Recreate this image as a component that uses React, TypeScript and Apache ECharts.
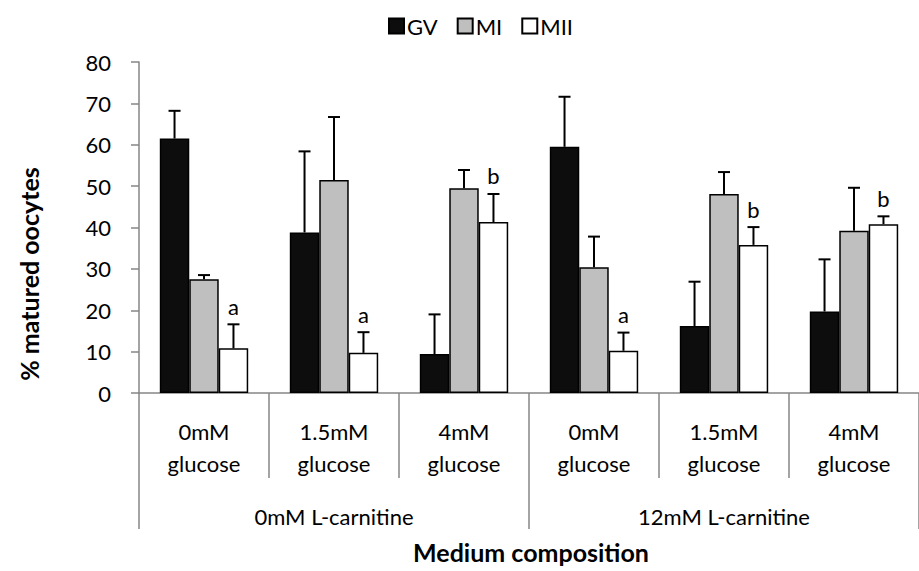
import React, { useEffect, useRef } from "react";
import * as echarts from "echarts";

const categories = ["0mM\nglucose", "1.5mM\nglucose", "4mM\nglucose", "0mM\nglucose", "1.5mM\nglucose", "4mM\nglucose"];
const groups = ["0mM L-carnitine", "12mM L-carnitine"];
const seriesNames = ["GV", "MI", "MII"];
const gvValues = [61.5, 38.8, 9.4, 59.5, 16.2, 19.7];
const miValues = [27.5, 51.5, 49.5, 30.4, 48.1, 39.2];
const miiValues = [10.8, 9.7, 41.3, 10.2, 35.8, 40.8];
const gvErr = [6.7, 19.6, 9.6, 12.1, 10.7, 12.6];
const miErr = [1.0, 15.2, 4.4, 7.4, 5.3, 10.4];
const miiErr = [5.8, 5.0, 6.8, 4.4, 4.3, 1.9];
const miiLetters = ["a", "a", "b", "a", "b", "b"];
const yTicks = { min: 0, max: 80, interval: 10 };

const FONT = "Lato";
const GRAY = "#868686";

export default function App() {
  const ref = useRef<HTMLDivElement>(null);
  useEffect(() => {
    if (!ref.current) return;
    const chart = echarts.init(ref.current, null, { renderer: "svg" });
    const means = [gvValues, miValues, miiValues];
    const errs = [gvErr, miErr, miiErr];
    const colors = ["#0d0d0d", "#bfbfbf", "#ffffff"];
    const errData: any[] = [];
    for (let s = 0; s < 3; s++) {
      for (let i = 0; i < categories.length; i++) {
        errData.push([i, means[s][i], errs[s][i], s]);
      }
    }
    const barSeries = seriesNames.map((name, s) => ({
      name,
      type: "bar",
      xAxisIndex: 0,
      data: means[s],
      barGap: "0%",
      barCategoryGap: "32%",
      itemStyle: { color: colors[s], borderColor: "#000", borderWidth: 1.5 },
    }));
    const option: any = {
      animation: false,
      textStyle: { fontFamily: FONT },
      legend: {
        data: seriesNames.map((n) => ({ name: n, icon: "rect" })),
        left: 383,
        top: 10,
        itemWidth: 15,
        itemHeight: 15,
        itemGap: 19,
        textStyle: { fontFamily: FONT, fontSize: 22, color: "#000", padding: [0, 0, 0, -2] },
      },
      grid: { left: 139, top: 62, width: 787, height: 331, containLabel: false },
      xAxis: [
        {
          type: "category",
          data: categories,
          position: "bottom",
          axisLine: { show: true, lineStyle: { color: GRAY, width: 1.5 } },
          axisTick: { show: true, interval: 0, length: 85, lineStyle: { color: GRAY, width: 1.5 } },
          axisLabel: { interval: 0, margin: 22, fontFamily: FONT, fontSize: 22, lineHeight: 32, color: "#000" },
          splitLine: { show: false },
        },
        {
          type: "category",
          data: groups,
          position: "bottom",
          offset: 85,
          axisLine: { show: false },
          axisTick: { show: true, interval: 0, length: 51, lineStyle: { color: GRAY, width: 1.5 } },
          axisLabel: { interval: 0, margin: 26, fontFamily: FONT, fontSize: 22, lineHeight: 24, color: "#000" },
          splitLine: { show: false },
        },
      ],
      yAxis: {
        type: "value",
        min: yTicks.min,
        max: yTicks.max,
        interval: yTicks.interval,
        axisLine: { show: true, lineStyle: { color: GRAY, width: 1.5 } },
        axisTick: { show: true, length: 8, lineStyle: { color: GRAY, width: 1.5 } },
        axisLabel: { margin: 28, fontFamily: FONT, fontSize: 22, color: "#000" },
        splitLine: { show: false },
      },
      graphic: [
        {
          type: "text",
          x: 29,
          y: 274,
          rotation: Math.PI / 2,
          style: {
            text: "% matured oocytes",
            font: `bold 25px ${FONT}`,
            fill: "#000",
            align: "center",
            verticalAlign: "middle",
            textAlign: "center",
            textVerticalAlign: "middle",
          },
        },
        {
          type: "text",
          x: 531,
          y: 552,
          style: {
            text: "Medium composition",
            font: `bold 25px ${FONT}`,
            fill: "#000",
            align: "center",
            verticalAlign: "middle",
            textAlign: "center",
            textVerticalAlign: "middle",
          },
        },
      ],
      series: [
        ...barSeries,
        {
          type: "custom",
          name: "err",
          xAxisIndex: 0,
          z: 10,
          data: errData,
          renderItem: (params: any, api: any) => {
            const idx = api.value(0);
            const mean = api.value(1);
            const err = api.value(2);
            const s = api.value(3);
            const catW = api.size([1, 0])[0];
            const barW = (catW * 0.68) / 3;
            const x = api.coord([idx, 0])[0] + (s - 1) * barW;
            const yMean = api.coord([idx, mean])[1];
            const yTop = api.coord([idx, mean + err])[1];
            const ls = { stroke: "#000", lineWidth: 2 };
            const children: any[] = [
              { type: "line", shape: { x1: x, y1: yMean, x2: x, y2: yTop }, style: ls },
              { type: "line", shape: { x1: x - 6, y1: yTop, x2: x + 6, y2: yTop }, style: ls },
            ];
            if (s === 2) {
              children.push({
                type: "text",
                style: {
                  text: miiLetters[idx],
                  x: x,
                  y: yTop - 18,
                  font: `22px ${FONT}`,
                  fill: "#000",
                  align: "center",
                  verticalAlign: "middle",
                },
              });
            }
            return { type: "group", children };
          },
        },
      ],
    };
    chart.setOption(option);
    return () => chart.dispose();
  }, []);
  return (
    <div
      ref={ref}
      style={{ position: "absolute", left: 0, top: 0, width: 919, height: 571, background: "#fff" }}
    />
  );
}
